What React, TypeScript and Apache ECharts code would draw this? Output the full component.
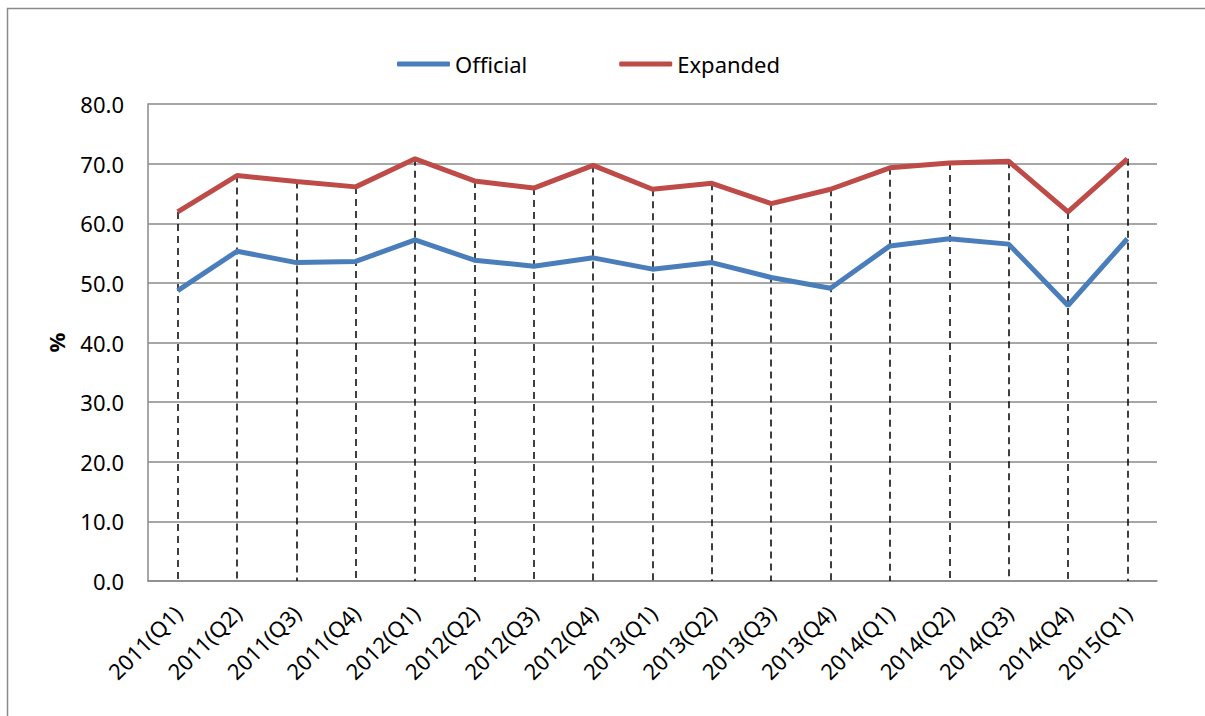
import React, { useEffect, useRef } from "react";
import * as echarts from "echarts";

const categories = [
  "2011(Q1)", "2011(Q2)", "2011(Q3)", "2011(Q4)",
  "2012(Q1)", "2012(Q2)", "2012(Q3)", "2012(Q4)",
  "2013(Q1)", "2013(Q2)", "2013(Q3)", "2013(Q4)",
  "2014(Q1)", "2014(Q2)", "2014(Q3)", "2014(Q4)",
  "2015(Q1)",
];
const official = [48.7, 55.3, 53.4, 53.6, 57.2, 53.8, 52.8, 54.2, 52.3, 53.4, 50.9, 49.1, 56.2, 57.4, 56.5, 46.2, 57.4];
const expanded = [61.9, 68.0, 67.0, 66.1, 70.8, 67.1, 65.9, 69.7, 65.7, 66.7, 63.3, 65.7, 69.3, 70.1, 70.4, 61.9, 70.8];
const yTicks = { min: 0, max: 80, interval: 10 };

const FONT = "'Noto Sans', 'Open Sans', sans-serif";
const GRID_COLOR = "#8a8a8a";

export default function App() {
  const ref = useRef<HTMLDivElement>(null);
  useEffect(() => {
    if (!ref.current) return;
    const chart = echarts.init(ref.current, null, { renderer: "svg" });
    const dropLines = categories.map((c, i) => {
      const top = Math.max(official[i], expanded[i]);
      return [{ coord: [c, top] }, { coord: [c, 0] }];
    });
    chart.setOption({
      animation: false,
      backgroundColor: "#ffffff",
      graphic: [
        {
          type: "rect",
          shape: { x: 7.5, y: 8.5, width: 1215, height: 730 },
          style: { fill: "none", stroke: "#8a8a8a", lineWidth: 1.5 },
          silent: true,
        },
      ],
      legend: {
        left: 392,
        top: 48,
        itemWidth: 53,
        itemHeight: 5,
        itemGap: 92,
        icon: "roundRect",
        textStyle: { fontFamily: FONT, fontSize: 22, color: "#000" },
        data: ["Official", "Expanded"],
      },
      grid: { left: 148, right: 48, top: 104, bottom: 135, containLabel: false },
      xAxis: {
        type: "category",
        data: categories,
        boundaryGap: true,
        axisLine: { show: true, lineStyle: { color: GRID_COLOR, width: 1.5 } },
        axisTick: { show: false },
        axisLabel: {
          rotate: 45,
          interval: 0,
          margin: 28,
          fontFamily: FONT,
          fontSize: 22,
          color: "#000",
        },
        splitLine: { show: false },
      },
      yAxis: {
        type: "value",
        min: yTicks.min,
        max: yTicks.max,
        interval: yTicks.interval,
        name: "%",
        nameLocation: "middle",
        nameGap: 81,
        nameRotate: 90,
        nameTextStyle: { fontFamily: FONT, fontSize: 22, fontWeight: "bold", color: "#000" },
        axisLine: { show: true, lineStyle: { color: GRID_COLOR, width: 1.5 } },
        axisTick: { show: false },
        axisLabel: {
          margin: 24,
          fontFamily: FONT,
          fontSize: 22,
          color: "#000",
          formatter: (v: number) => v.toFixed(1),
        },
        splitLine: { show: true, lineStyle: { color: GRID_COLOR, width: 1.5 } },
      },
      series: [
        {
          name: "Official",
          type: "line",
          data: official,
          symbol: "none",
          lineStyle: { color: "#4A7EBB", width: 5 },
          itemStyle: { color: "#4A7EBB" },
          z: 3,
        },
        {
          name: "Expanded",
          type: "line",
          data: expanded,
          symbol: "none",
          lineStyle: { color: "#BE4B48", width: 5 },
          itemStyle: { color: "#BE4B48" },
          z: 3,
          markLine: {
            silent: true,
            symbol: ["none", "none"],
            label: { show: false },
            lineStyle: { color: "#000", type: [7, 5], width: 1.5 },
            z: 1,
            data: dropLines,
          },
        },
      ],
    });
    return () => chart.dispose();
  }, []);
  return (
    <div
      ref={ref}
      style={{ position: "absolute", left: 0, top: 0, width: 1205, height: 716 }}
    />
  );
}
